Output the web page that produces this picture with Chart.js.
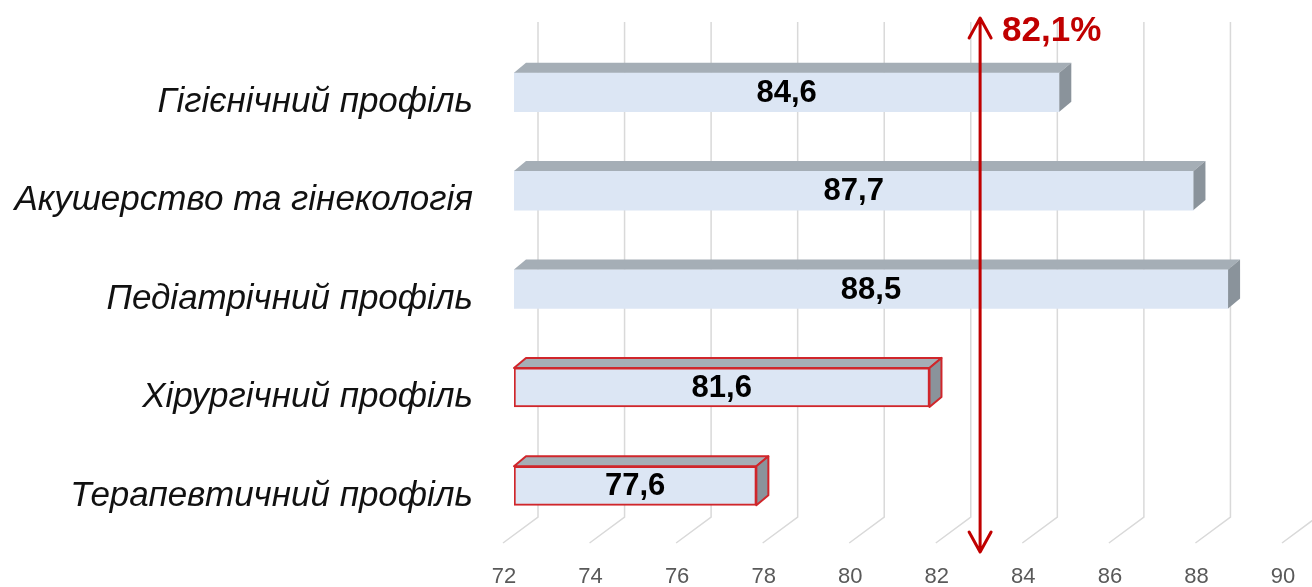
<!DOCTYPE html>
<html>
<head>
<meta charset="utf-8">
<script src="https://cdn.jsdelivr.net/npm/chart.js@4.4.1/dist/chart.umd.min.js"></script>
<style>
  html, body { margin: 0; padding: 0; background: #fff; }
  #wrap { width: 1312px; height: 587px; position: relative; }
</style>
</head>
<body>
<div id="wrap"><canvas id="chart"></canvas></div>
<script>
// data
const categories = [
  "Гігієнічний профіль",
  "Акушерство та гінекологія",
  "Педіатрічний профіль",
  "Хірургічний профіль",
  "Терапевтичний профіль"
];
const values = [84.6, 87.7, 88.5, 81.6, 77.6];
const average = 82.1;
const xMin = 72, xMax = 90, xStep = 2;

// colours
const colFront = "#dce6f4";
const colTop = "#a5aeb6";
const colSide = "#8a939b";
const colRed = "#d0262b";
const colArrow = "#c00000";
const colGrid = "#d9d9d9";

const FONT = "'Liberation Sans', Arial, sans-serif";
const DX = 12, DY = 10; // bar depth

const isLow = v => v < average;

// 3D faces, floor grid, value labels and the average arrow
const Box3D = {
  id: "box3d",
  beforeDatasetsDraw(chart) {
    const { ctx, chartArea, scales: { x } } = chart;
    const backY = chartArea.bottom - 18;
    const frontY = chartArea.bottom + 8;
    ctx.save();
    ctx.strokeStyle = colGrid;
    ctx.lineWidth = 1.5;
    for (let v = xMin; v <= xMax; v += xStep) {
      const px = x.getPixelForValue(v);
      ctx.beginPath();
      ctx.moveTo(px + 24, 22);
      ctx.lineTo(px + 24, backY);
      ctx.lineTo(px - 11, frontY);
      ctx.stroke();
    }
    ctx.restore();
  },
  afterDatasetsDraw(chart) {
    const { ctx, scales: { x } } = chart;
    const meta = chart.getDatasetMeta(0);
    ctx.save();
    meta.data.forEach((bar, i) => {
      const p = bar.getProps(["x", "y", "base", "height"], true);
      const left = p.base, right = p.x;
      const top = p.y - p.height / 2, bottom = p.y + p.height / 2;
      const low = isLow(values[i]);
      ctx.lineJoin = "round";
      ctx.lineWidth = 2;
      ctx.strokeStyle = colRed;
      // top face
      ctx.beginPath();
      ctx.moveTo(left, top);
      ctx.lineTo(left + DX, top - DY);
      ctx.lineTo(right + DX, top - DY);
      ctx.lineTo(right, top);
      ctx.closePath();
      ctx.fillStyle = colTop;
      ctx.fill();
      if (low) ctx.stroke();
      // side face
      ctx.beginPath();
      ctx.moveTo(right, top);
      ctx.lineTo(right + DX, top - DY);
      ctx.lineTo(right + DX, bottom - DY);
      ctx.lineTo(right, bottom);
      ctx.closePath();
      ctx.fillStyle = colSide;
      ctx.fill();
      if (low) ctx.stroke();
      // value label
      ctx.fillStyle = "#000";
      ctx.font = "bold 31px " + FONT;
      ctx.textAlign = "center";
      ctx.textBaseline = "middle";
      ctx.fillText(values[i].toFixed(1).replace(".", ","), (left + right) / 2, p.y + 1);
    });

    // average arrow
    const ax = x.getPixelForValue(average) + 29;
    const y1 = 18, y2 = 552;
    ctx.strokeStyle = colArrow;
    ctx.lineWidth = 3;
    ctx.lineCap = "round";
    ctx.beginPath();
    ctx.moveTo(ax, y1 + 1);
    ctx.lineTo(ax, y2 - 1);
    ctx.moveTo(ax - 11, y1 + 20);
    ctx.lineTo(ax, y1);
    ctx.lineTo(ax + 11, y1 + 20);
    ctx.moveTo(ax - 11, y2 - 20);
    ctx.lineTo(ax, y2);
    ctx.lineTo(ax + 11, y2 - 20);
    ctx.stroke();

    ctx.fillStyle = colArrow;
    ctx.font = "bold 35px " + FONT;
    ctx.textAlign = "left";
    ctx.textBaseline = "middle";
    ctx.fillText(average.toFixed(1).replace(".", ",") + "%", ax + 22, 31);
    ctx.restore();
  }
};

new Chart(document.getElementById("chart"), {
  type: "bar",
  data: {
    labels: categories,
    datasets: [{
      data: values,
      base: xMin,
      backgroundColor: colFront,
      borderColor: values.map(v => isLow(v) ? colRed : colFront),
      borderWidth: values.map(v => isLow(v) ? 2 : 0),
      borderSkipped: false,
      barThickness: 39
    }]
  },
  options: {
    indexAxis: "y",
    responsive: true,
    maintainAspectRatio: false,
    animation: false,
    layout: { padding: { top: 43, right: 19, bottom: 0, left: 0 } },
    plugins: {
      legend: { display: false },
      tooltip: { enabled: false }
    },
    scales: {
      x: {
        min: xMin,
        max: xMax,
        grid: { display: false, drawTicks: false },
        border: { display: false },
        ticks: {
          stepSize: xStep,
          color: "#595959",
          font: { family: FONT, size: 22 },
          padding: 29,
          labelOffset: -10,
          maxRotation: 0
        },
        afterFit: s => { s.height = 52; s.paddingLeft = 0; s.paddingRight = 0; }
      },
      y: {
        grid: { display: false, drawTicks: false },
        border: { display: false },
        ticks: {
          color: "#111",
          font: { family: FONT, size: 35, style: "italic" },
          padding: 41,
          labelOffset: 10
        },
        afterFit: s => { s.width = 514; s.paddingTop = 0; s.paddingBottom = 0; }
      }
    }
  },
  plugins: [Box3D]
});
</script>
</body>
</html>
